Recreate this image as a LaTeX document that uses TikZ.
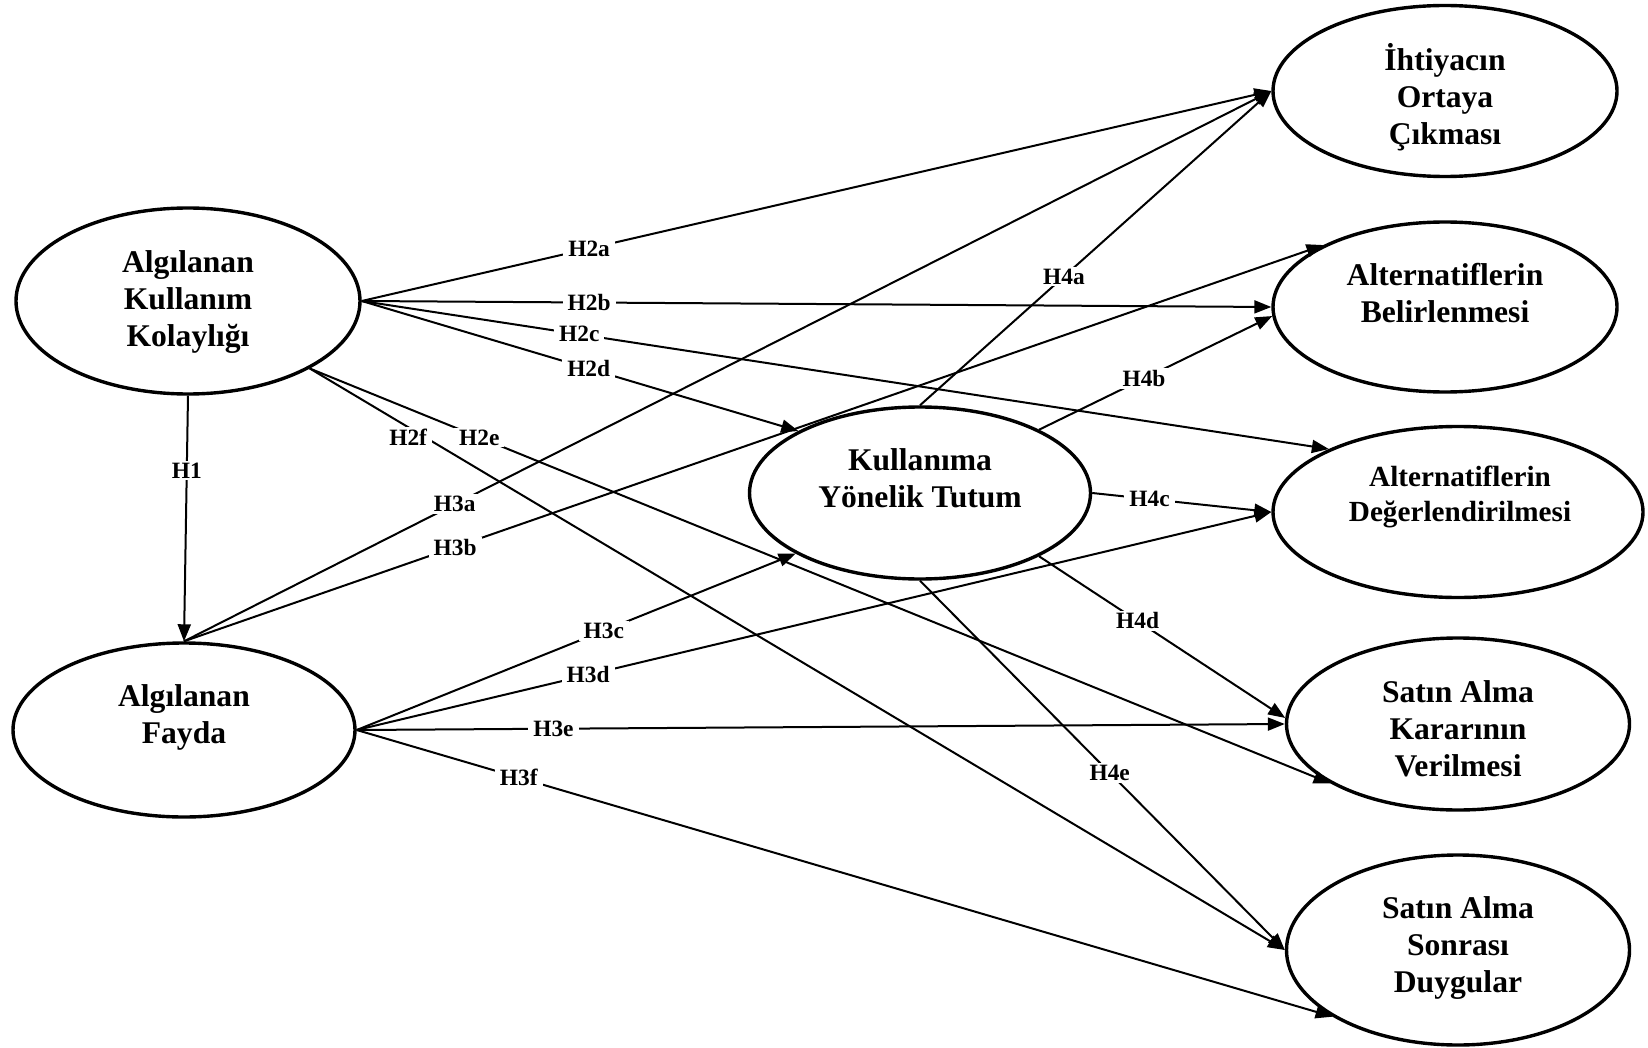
\documentclass[tikz,border=0pt]{standalone}
\usepackage{fontspec}
\setmainfont{Liberation Serif}
\usetikzlibrary{arrows.meta,shapes.geometric}

\begin{document}
\begin{tikzpicture}[x=0.5pt, y=-0.5pt,
        construct/.style={ellipse, draw, line width=1.7pt, inner sep=0pt},
        ctext/.style={align=center, inner sep=0pt, font=\fontsize{15.8}{18.5}\selectfont\bfseries},
        link/.style={line width=1pt, -{Triangle[length=8.5pt, width=6.5pt]}},
        hlabel/.style={fill=white, inner xsep=2.5pt, inner ysep=1pt, font=\fontsize{11.7}{13}\selectfont\bfseries}]
        \useasboundingbox (0,0) rectangle (1648,1048);
        % constructs
        \foreach \n/\x/\y/\w/\h in {akk/188/301/172/93, af/184/730/171/87, kyt/920/493/170.5/86,
            ihti/1445/91/172/85.5, bel/1445/307/172/85, deg/1458/512/185/85.5,
            kar/1458/724/171.5/86, duy/1458/950/171.5/95}{
            \node[construct, minimum width=\w pt, minimum height=\h pt] (\n) at (\x, \y) {};
        }
        \node[ctext] (akkt) at (188, 302) {Algılanan\\Kullanım\\Kolaylığı};
        \node[ctext] (aft) at (184, 717) {Algılanan\\Fayda};
        \node[ctext] (kytt) at (920, 478) {Kullanıma\\Yönelik Tutum};
        \node[ctext] (ihtit) at (1445, 97) {İhtiyacın\\Ortaya\\Çıkması};
        \node[ctext] (belt) at (1445, 293) {Alternatiflerin\\Belirlenmesi};
        \node[ctext, font=\fontsize{14.6}{17.5}\selectfont\bfseries] (degt) at (1460, 497) {Alternatiflerin\\Değerlendirilmesi};
        \node[ctext] (kart) at (1458, 729) {Satın Alma\\Kararının\\Verilmesi};
        \node[ctext] (duyt) at (1458, 948) {Satın Alma\\Sonrası\\Duygular};
        % hypotheses
        \foreach \s/\t/\p/\l in {akk.south/af.north/.305/H1,
            akk.east/ihti.west/.25/H2a, akk.east/bel.west/.25/H2b, akk.east/deg.154/.225/H2c,
            akk.east/kyt.153/.52/H2d, akk.-29/kar.205/.166/H2e,
            af.north/ihti.west/.249/H3a, af.north/bel.153/.238/H3b, af.east/kyt.206/.563/H3c,
            af.east/deg.west/.253/H3d, af.east/kar.west/.212/H3e, af.east/duy.208/.166/H3f,
            kyt.north/ihti.west/.41/H4a, kyt.28/bel.183/.45/H4b, kyt.east/deg.west/.32/H4c,
            kyt.-28/kar.178/.40/H4d, kyt.south/duy.west/.52/H4e}{
            \draw[link] (\s) -- node[hlabel, pos=\p] (\l) {\l} (\t);
        }
        \draw[link] (akk.-29) -- node[hlabel, pos=.105, xshift=-2pt, yshift=-4pt] (H2f) {H2f} (duy.west);
    \end{tikzpicture}
\end{document}
